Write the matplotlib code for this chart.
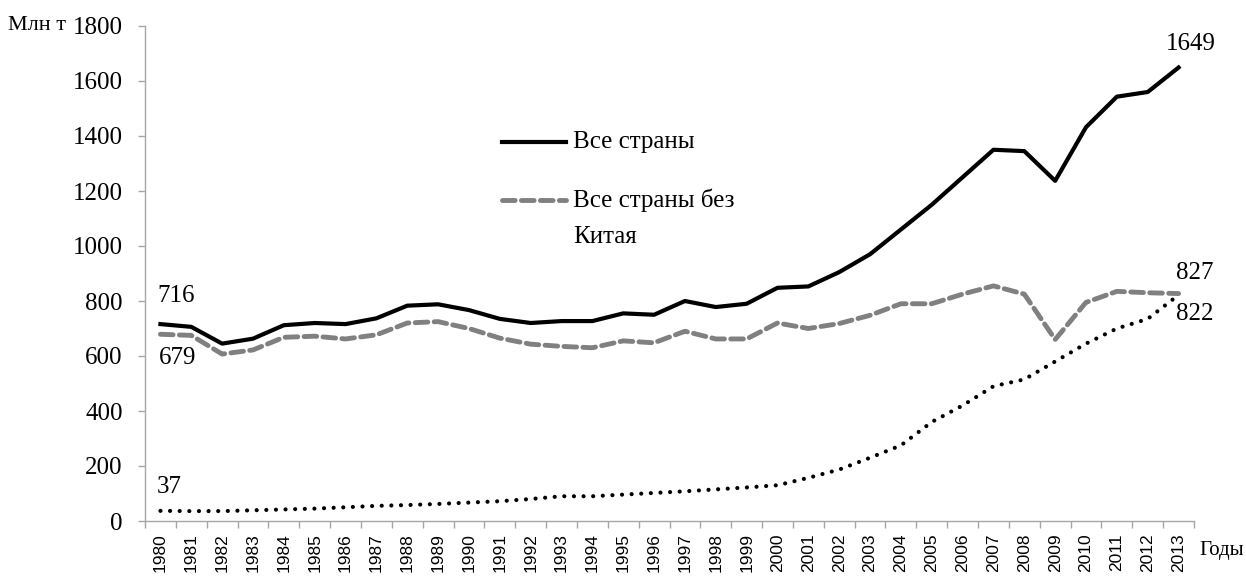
import numpy as np
import matplotlib
matplotlib.use('Agg')
import matplotlib.pyplot as plt
from matplotlib.lines import Line2D

plt.rcParams['font.family'] = ['Liberation Serif', 'DejaVu Serif']

years = list(range(1980, 2014))
all_countries = [716, 706, 645, 663, 712, 720, 716, 737, 783, 788, 767, 735, 720, 727, 727,
                 755, 750, 800, 778, 790, 848, 853, 905, 970, 1060, 1150, 1250, 1350, 1345,
                 1237, 1432, 1543, 1560, 1649]
no_china = [679, 675, 607, 622, 668, 672, 662, 677, 720, 725, 700, 665, 643, 635, 630,
            655, 648, 690, 662, 662, 720, 700, 718, 748, 790, 790, 825, 855, 825,
            660, 795, 835, 830, 827]
china = [37, 36, 36, 39, 42, 45, 50, 55, 58, 62, 67, 72, 80, 90, 90,
         96, 102, 108, 115, 122, 130, 157, 187, 230, 275, 360, 420, 490, 515,
         580, 645, 700, 735, 822]

axis_col = '#a6a6a6'
grey = '#808080'
dash_style = (2.6, 1.3)

fig = plt.figure(figsize=(12.46, 5.77), dpi=100)
ax = fig.add_axes([145/1246, 56/577, 1049/1246, 495/577])

x = np.arange(len(years))
ax.plot(x, all_countries, color='black', lw=3, solid_joinstyle='round')
ax.plot(x, no_china, color=grey, lw=3.5, dashes=dash_style, dash_capstyle='round')
ax.plot(x, china, color='black', lw=3, linestyle=(0, (0.01, 2.3)), dash_capstyle='round')

ax.set_xlim(-0.5, len(years) - 0.5)
ax.set_ylim(0, 1800)
ax.set_yticks(range(0, 1801, 200))
ax.set_yticklabels([str(v) for v in range(0, 1801, 200)], fontsize=18, family='Liberation Serif')
ax.tick_params(axis='y', length=5, width=1, color=axis_col, pad=11)

ax.set_xticks(x)
ax.set_xticklabels([str(y) for y in years], rotation=90, fontsize=12.5, family='Liberation Sans')
ax.set_xticks(np.arange(-0.5, len(years), 1), minor=True)
ax.tick_params(axis='x', which='major', length=0, pad=9)
ax.tick_params(axis='x', which='minor', length=5, width=1, color=axis_col)

for s in ['top', 'right']:
    ax.spines[s].set_visible(False)
for s in ['left', 'bottom']:
    ax.spines[s].set_color(axis_col)
    ax.spines[s].set_linewidth(1)

fs = 18
ax.annotate('716', (0, all_countries[0]), xytext=(11, 20), textcoords='offset points',
            ha='center', va='center', fontsize=fs)
ax.annotate('679', (0, no_china[0]), xytext=(12, -17), textcoords='offset points',
            ha='center', va='center', fontsize=fs)
ax.annotate('37', (0, china[0]), xytext=(6.5, 17), textcoords='offset points',
            ha='center', va='center', fontsize=fs)
ax.annotate('1649', (33, all_countries[-1]), xytext=(9, 17), textcoords='offset points',
            ha='center', va='center', fontsize=fs)
ax.annotate('827', (33, no_china[-1]), xytext=(12, 15), textcoords='offset points',
            ha='center', va='center', fontsize=fs)
ax.annotate('822', (33, china[-1]), xytext=(12, -14), textcoords='offset points',
            ha='center', va='center', fontsize=fs)

fig.text(8/1246, 1 - 26/577, 'Млн т', fontsize=16, ha='left', va='center')
fig.text(1244/1246, 1 - 551/577, 'Годы', fontsize=15, ha='right', va='center')

# legend drawn by hand (only two of the three series are listed)
def fy(py):
    return 1 - py / 577

fig.add_artist(Line2D([502/1246, 566/1246], [fy(142), fy(142)], color='black', lw=3))
fig.text(573/1246, fy(142), 'Все страны', fontsize=fs, ha='left', va='center')
fig.add_artist(Line2D([502/1246, 566/1246], [fy(200), fy(200)], color=grey, lw=3.5,
                      dashes=dash_style, dash_capstyle='round'))
fig.text(573/1246, fy(200), 'Все страны без', fontsize=fs, ha='left', va='center')
fig.text(573/1246, fy(237), 'Китая', fontsize=fs, ha='left', va='center')

fig.savefig('out.png', dpi=100)
